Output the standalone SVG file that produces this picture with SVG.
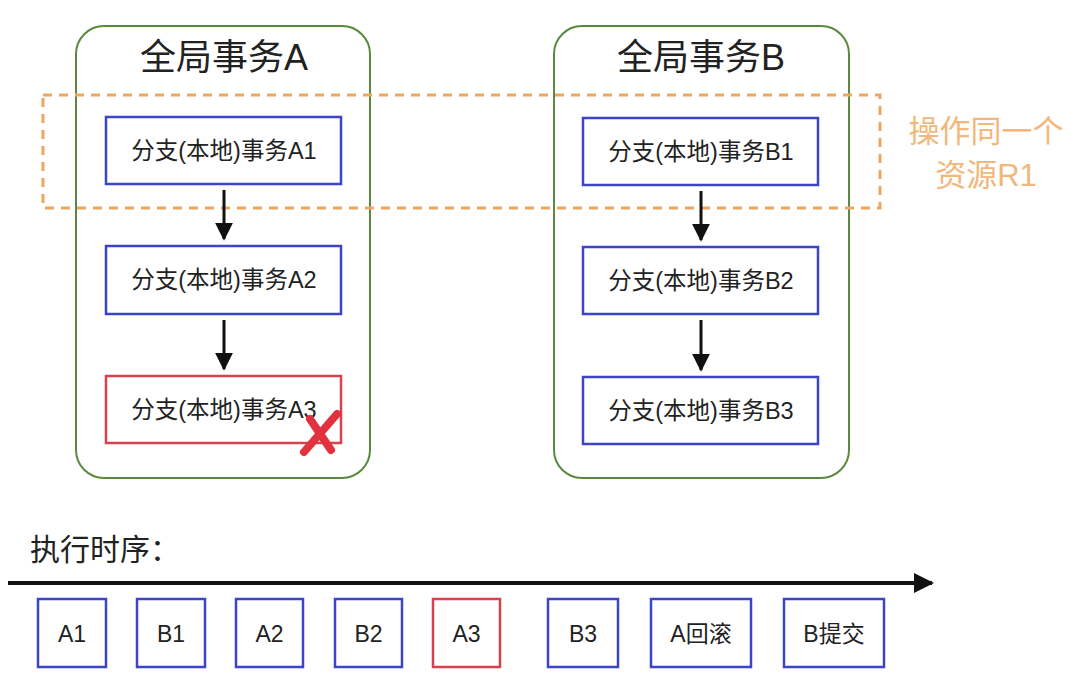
<svg xmlns="http://www.w3.org/2000/svg" width="1080" height="698" viewBox="0 0 1080 698">
<defs>
<style>
.g{fill:#fff;stroke:#5a8a3c;stroke-width:2}
.b{fill:#fff;stroke:#3b45c6;stroke-width:2.5}
.r{fill:#fff;stroke:#d9414f;stroke-width:2.5}
.t{font-family:"Liberation Sans","Noto Sans CJK SC",sans-serif;fill:#222;text-anchor:middle}
.s{font-size:23.5px}
.m{font-size:23px}
.h{font-size:36px}
.o{font-size:31px;fill:#f2b77a}
.c{stroke:#111;stroke-width:3;fill:none}
</style>
<marker id="ah" viewBox="0 0 10 10" refX="9" refY="5" markerWidth="6" markerHeight="6" orient="auto" markerUnits="strokeWidth"><path d="M0,0 L10,5 L0,10 z" fill="#111"/></marker>
<marker id="ah2" viewBox="0 0 10 10" refX="9" refY="5" markerWidth="5" markerHeight="5" orient="auto" markerUnits="strokeWidth"><path d="M0,0 L10,5 L0,10 z" fill="#111"/></marker>
</defs>
<rect width="1080" height="698" fill="#fff"/>
<g id="globalA"><rect class="g" x="76" y="26" width="294" height="452" rx="28"/><text class="t h" x="224" y="70">全局事务A</text></g>
<g id="globalB"><rect class="g" x="554" y="26" width="295" height="452" rx="28"/><text class="t h" x="701" y="70">全局事务B</text></g>
<g id="resource"><rect x="43" y="95" width="837" height="113" fill="none" stroke="#eda562" stroke-width="3" stroke-dasharray="9,7"/>
<text class="t o" x="986" y="142">操作同一个</text>
<text class="t o" x="986" y="186">资源R1</text></g>
<g id="A1"><rect class="b" x="106" y="117" width="235" height="67"/><text class="t s" x="224" y="159">分支(本地)事务A1</text></g>
<g id="A2"><rect class="b" x="106" y="246" width="235" height="68"/><text class="t s" x="224" y="288">分支(本地)事务A2</text></g>
<g id="A3"><rect class="r" x="106" y="376" width="235" height="67"/><text class="t s" x="224" y="418">分支(本地)事务A3</text>
<path d="M304,452 L337,414 M310,419 L331,450" stroke="#e0323f" stroke-width="8" stroke-linecap="round" fill="none"/></g>
<g id="B1"><rect class="b" x="583" y="118" width="235" height="67"/><text class="t s" x="701" y="160">分支(本地)事务B1</text></g>
<g id="B2"><rect class="b" x="583" y="247" width="235" height="67"/><text class="t s" x="701" y="289">分支(本地)事务B2</text></g>
<g id="B3"><rect class="b" x="583" y="377" width="235" height="67"/><text class="t s" x="701" y="419">分支(本地)事务B3</text></g>
<g id="connectors">
<line class="c" x1="224" y1="190" x2="224" y2="239" marker-end="url(#ah)"/>
<line class="c" x1="224" y1="320" x2="224" y2="369" marker-end="url(#ah)"/>
<line class="c" x1="701" y1="191" x2="701" y2="240" marker-end="url(#ah)"/>
<line class="c" x1="701" y1="320" x2="701" y2="370" marker-end="url(#ah)"/>
<line x1="8" y1="583" x2="932" y2="583" stroke="#111" stroke-width="4" marker-end="url(#ah2)"/>
</g>
<g id="timelineLabel"><text class="t" x="30" y="560" style="font-size:30px;text-anchor:start">执行时序：</text></g>
<g id="tA1"><rect class="b" x="38" y="599" width="68" height="68"/><text class="t m" x="72" y="642">A1</text></g>
<g id="tB1"><rect class="b" x="137" y="599" width="68" height="68"/><text class="t m" x="171" y="642">B1</text></g>
<g id="tA2"><rect class="b" x="236" y="599" width="67" height="68"/><text class="t m" x="269.5" y="642">A2</text></g>
<g id="tB2"><rect class="b" x="335" y="599" width="67" height="68"/><text class="t m" x="368.5" y="642">B2</text></g>
<g id="tA3"><rect class="r" x="433" y="599" width="67" height="68"/><text class="t m" x="466.5" y="642">A3</text></g>
<g id="tB3"><rect class="b" x="548" y="599" width="70" height="68"/><text class="t m" x="583" y="642">B3</text></g>
<g id="tArb"><rect class="b" x="651" y="599" width="100" height="68"/><text class="t m" x="701" y="642">A回滚</text></g>
<g id="tBc"><rect class="b" x="784" y="599" width="100" height="68"/><text class="t m" x="834" y="642">B提交</text></g>
</svg>
